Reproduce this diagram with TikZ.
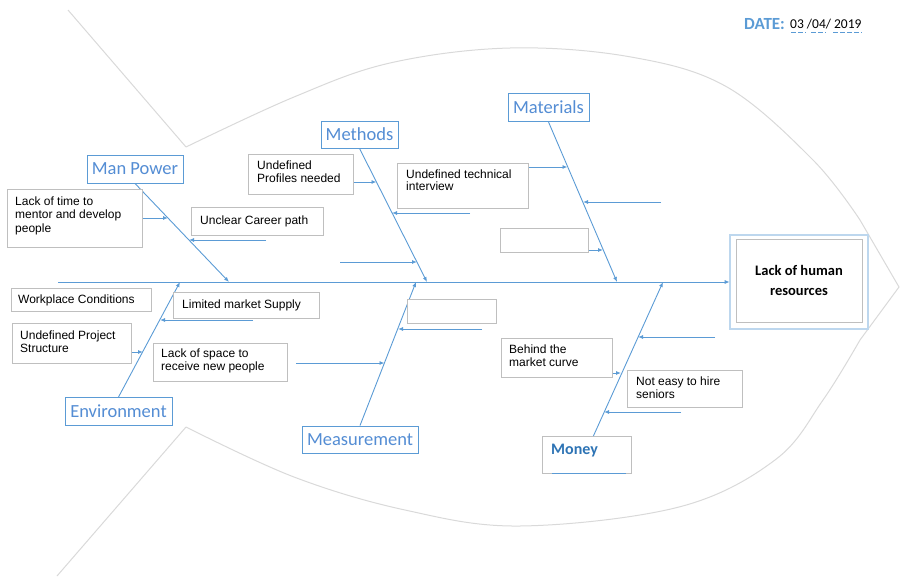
\documentclass[tikz,border=0pt]{standalone}
\usepackage{fontspec}
\setmainfont{Liberation Sans}
\newfontfamily\calibri{Carlito}
\usetikzlibrary{arrows.meta,calc}
\definecolor{bl}{RGB}{91,155,213}
\definecolor{blt}{RGB}{84,141,212}
\definecolor{bll}{RGB}{189,215,238}
\definecolor{mblue}{RGB}{46,116,181}
\definecolor{gb}{RGB}{191,191,191}
\definecolor{fishc}{RGB}{217,217,217}
\begin{document}
\begin{tikzpicture}[x=1pt,y=-1pt,
  arr/.style={draw=bl, line width=0.9pt, -{Latex[length=5pt,width=4pt]}},
  bone/.style={draw=bl, line width=0.9pt, -{Latex[length=5pt,width=4pt]}},
  cat/.style={draw=bl, line width=0.9pt, fill=white, text=blt, inner sep=0pt,
              font=\calibri\fontsize{18.5}{20}\selectfont},
  gbox/.style={draw=gb, line width=0.8pt, fill=white, anchor=north west, inner sep=0pt},
  btxt/.style={anchor=base west, align=left, inner sep=0pt, font=\fontsize{12}{13.8}\selectfont},
  fish/.style={draw=fishc, line width=1pt}]
\useasboundingbox (0,0) rectangle (900,576);

% fish outline
\draw[fish] (68,10) -- (186,147);
\draw[fish] plot[smooth, tension=0.6] coordinates {(186,147) (294,97) (390,63) (510,48) (631,57) (727,87) (813,160) (860,220)};
\draw[fish] (860,220) -- (899,287) -- (860,340);
\draw[fish] plot[smooth, tension=0.6] coordinates {(860,340) (823,400) (775,460) (679,507) (520,526) (405,510) (294,477) (186,427)};
\draw[fish] (186,427) -- (57,576);

% date
\node[anchor=base west, inner sep=0pt, text=bl, font=\calibri\bfseries\fontsize{17}{19}\selectfont] (dl) at (744,29) {DATE:};
\node[anchor=base west, inner sep=0pt, font=\calibri\fontsize{13.5}{15}\selectfont] (dv) at (790,28.5) {03 /04/ 2019};
\draw[bl, line width=1pt, dash pattern=on 5pt off 2pt] (791,32.5) -- (806,32.5);
\draw[bl, line width=1pt, dash pattern=on 5pt off 2pt] (811,32.5) -- (826,32.5);
\draw[bl, line width=1pt, dash pattern=on 5pt off 2pt] (833,32.5) -- (862,32.5);

% head
\node[draw=bl, line width=0.6pt, double=bll, double distance=1.4pt, minimum width=138pt, minimum height=94pt, inner sep=0pt] (head) at (799,282) {};
\node[draw=gb, line width=0.8pt, minimum width=126pt, minimum height=83pt, inner sep=0pt] (headin) at (799,281) {};
\node[align=center, inner sep=0pt, font=\calibri\bfseries\fontsize{14.5}{20}\selectfont] (headt) at (799,280) {Lack of human\\resources};

% spine
\coordinate (sp0) at (58,282);
\draw[arr] (sp0) -- (head.west);

% spine targets
\coordinate (mpE) at (229,282);
\coordinate (meE) at (427,282);
\coordinate (maE) at (617,282);
\coordinate (enE) at (180,282);
\coordinate (msE) at (416,282);
\coordinate (moE) at (663,282);

% category boxes
\node[cat, minimum width=96pt, minimum height=28pt] (mp) at (135,169) {Man Power};
\node[cat, minimum width=77pt, minimum height=27pt] (me) at (359.5,134.5) {Methods};
\node[cat, minimum width=81pt, minimum height=28pt] (ma) at (548.5,107.5) {Materials};
\node[cat, minimum width=107pt, minimum height=28pt] (en) at (118.5,411.5) {Environment};
\node[cat, minimum width=116pt, minimum height=27pt] (ms) at (360,439.5) {Measurement};
\node[gbox, minimum width=89pt, minimum height=37pt] (mo) at (542,436) {};
\node[anchor=base west, inner sep=0pt, text=mblue, font=\calibri\bfseries\fontsize{16}{18}\selectfont] (mot) at (551,454) {Money};
\draw[bl, line width=1.6pt] (552,473.5) -- (626,473.5);

% bones
\draw[bone] (mp.south) -- (mpE);
\draw[bone] (me.south) -- (meE);
\draw[bone] (ma.south) -- (maE);
\draw[bone] (en.north) -- (enE);
\draw[bone] (ms.north) -- (msE);
\draw[bone] ($(mo.north)+(6.5,0)$) -- (moE);

% bone target points
\coordinate (mp1) at (168,218);
\coordinate (mp2) at (189,240);
\coordinate (me1) at (376.5,182);
\coordinate (me2) at (392,213);
\coordinate (me3) at (417,262);
\coordinate (ma1) at (567.5,167);
\coordinate (ma2) at (583,202);
\coordinate (ma3) at (603,250);
\coordinate (en1) at (160,320);
\coordinate (en2) at (143,352);
\coordinate (ms1) at (398,329);
\coordinate (ms2) at (384.5,363);
\coordinate (mo1) at (638,337);
\coordinate (mo2) at (621,373);
\coordinate (mo3) at (604,412);

% free arrow starts
\coordinate (f2) at (266,240);
\coordinate (f3) at (470,213);
\coordinate (f4) at (340,262);
\coordinate (f5) at (661,202);
\coordinate (f6) at (253,320);
\coordinate (f7) at (482,329);
\coordinate (f8) at (296,363);
\coordinate (f9) at (715,337);
\coordinate (f10) at (681,412);

% cause boxes (base anchor of multi-line text = last line)
\node[gbox, minimum width=135pt, minimum height=58pt] (lt) at (7,189) {};
\node[btxt] (ltt) at (15,232.6) {Lack of time to\\mentor and develop\\people};
\node[gbox, minimum width=132pt, minimum height=28pt] (uc) at (191,207) {};
\node[btxt] (uct) at (200,224) {Unclear Career path};
\node[gbox, minimum width=105pt, minimum height=40pt] (up) at (248,154) {};
\node[btxt] (upt) at (257,182.8) {Undefined\\Profiles needed};
\node[gbox, minimum width=131pt, minimum height=45pt] (ti) at (397,163) {};
\node[btxt, font=\fontsize{12}{12.8}\selectfont] (tit) at (406,190.8) {Undefined technical\\interview};
\node[gbox, minimum width=88pt, minimum height=24pt] (e1) at (500,228) {};
\node[gbox, minimum width=140pt, minimum height=23pt] (wc) at (11,288) {};
\node[btxt] (wct) at (18,303) {Workplace Conditions};
\node[gbox, minimum width=146pt, minimum height=26pt] (lm) at (173,292) {};
\node[btxt] (lmt) at (182,308) {Limited market Supply};
\node[gbox, minimum width=119pt, minimum height=40pt] (pr) at (12,323) {};
\node[btxt] (prt) at (20,352.8) {Undefined Project\\Structure};
\node[gbox, minimum width=134pt, minimum height=38pt] (ls) at (153,343) {};
\node[btxt] (lst) at (161,370.8) {Lack of space to\\receive new people};
\node[gbox, minimum width=89pt, minimum height=24pt] (e2) at (407,299) {};
\node[gbox, minimum width=111pt, minimum height=39pt] (bh) at (501,338) {};
\node[btxt] (bht) at (509,366.8) {Behind the\\market curve};
\node[gbox, minimum width=115pt, minimum height=37pt] (ne) at (627,370) {};
\node[btxt] (net) at (636,398.8) {Not easy to hire\\seniors};

% cause arrows
\draw[arr] (lt.east |- mp1) -- (mp1);
\draw[arr] (f2) -- (mp2);
\draw[arr] (up.east |- me1) -- (me1);
\draw[arr] (f3) -- (me2);
\draw[arr] (f4) -- (me3);
\draw[arr] (ti.east |- ma1) -- (ma1);
\draw[arr] (f5) -- (ma2);
\draw[arr] (e1.east |- ma3) -- (ma3);
\draw[arr] (f6) -- (en1);
\draw[arr] (pr.east |- en2) -- (en2);
\draw[arr] (f7) -- (ms1);
\draw[arr] (f8) -- (ms2);
\draw[arr] (f9) -- (mo1);
\draw[arr] (bh.east |- mo2) -- (mo2);
\draw[arr] (f10) -- (mo3);
\end{tikzpicture}
\end{document}
